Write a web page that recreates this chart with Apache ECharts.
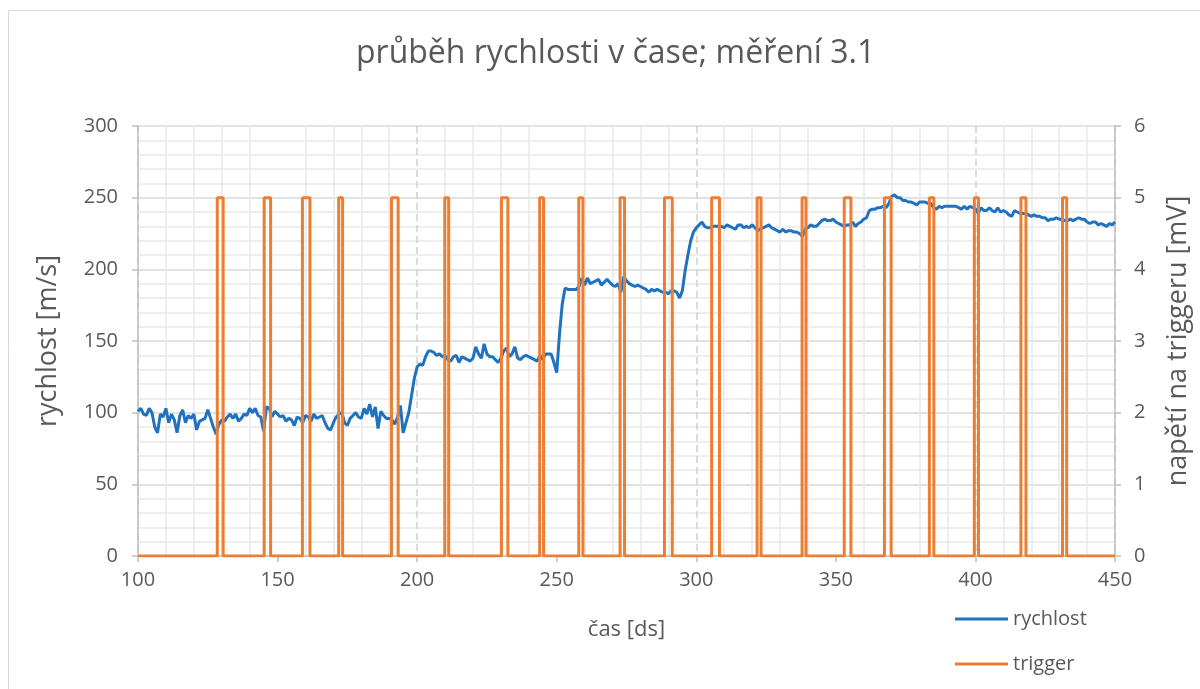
<!DOCTYPE html>
<html>
<head>
<meta charset="utf-8">
<script src="https://cdn.jsdelivr.net/npm/echarts@6/dist/echarts.min.js"></script>
<style>
  html, body { margin: 0; padding: 0; background: #fff; }
  #chart { width: 1200px; height: 689px; }
</style>
</head>
<body>
<div id="chart"></div>
<script>
// cas [ds] starts at 100, one value per ds
let casStart = 100;
let rychlost = [
  101, 103, 99, 98, 103, 100, 90, 86, 99, 97,
  103, 93, 99, 95, 86, 98, 102, 93, 98, 96,
  99, 88, 94, 95, 96, 102, 96, 90, 85, 92,
  95, 94, 97, 99, 96, 99, 94, 96, 99, 98,
  103, 100, 103, 98, 97, 87, 104, 103, 97, 101,
  99, 97, 98, 94, 96, 95, 91, 97, 96, 93,
  98, 97, 94, 99, 96, 97, 98, 93, 89, 88,
  93, 97, 99, 100, 93, 91, 96, 98, 100, 97,
  96, 103, 99, 106, 97, 104, 89, 101, 98, 96,
  96, 95, 92, 97, 105, 86, 93, 100, 112, 124,
  // 200
  132, 134, 133, 139, 143, 143, 142, 140, 141, 139,
  140, 137, 136, 139, 140, 135, 139, 138, 137, 136,
  138, 146, 141, 138, 148, 141, 139, 139, 137, 135,
  138, 143, 145, 139, 141, 146, 138, 137, 139, 140,
  139, 138, 137, 136, 140, 137, 141, 141, 141, 135,
  128, 155, 176, 187, 186, 186, 186, 186, 188, 194,
  189, 194, 190, 191, 192, 193, 189, 191, 193, 191,
  189, 188, 190, 184, 195, 192, 190, 189, 188, 189,
  188, 187, 186, 184, 186, 185, 186, 185, 184, 184,
  183, 185, 185, 184, 180, 185, 199, 210, 220, 226,
  // 300
  229, 231, 233, 230, 229, 229, 230, 230, 230, 230,
  229, 231, 230, 229, 228, 231, 231, 229, 230, 229,
  231, 229, 227, 228, 229, 230, 231, 229, 228, 227,
  226, 228, 226, 227, 227, 226, 226, 225, 223, 228,
  229, 231, 230, 230, 232, 234, 235, 234, 234, 235,
  233, 232, 231, 230, 231, 231, 233, 230, 232, 233,
  235, 236, 241, 242, 242, 243, 243, 244, 243, 246,
  251, 252, 250, 250, 248, 248, 247, 247, 246, 245,
  247, 247, 247, 246, 246, 243, 242, 244, 243, 244,
  244, 244, 244, 244, 243, 242, 244, 242, 244, 243,
  // 400
  242, 239, 243, 241, 241, 243, 241, 240, 243, 240,
  241, 240, 238, 237, 241, 240, 239, 239, 239, 238,
  237, 238, 237, 237, 236, 236, 234, 235, 235, 236,
  235, 235, 234, 234, 235, 234, 235, 236, 235, 235,
  233, 232, 233, 233, 231, 232, 231, 230, 232, 231,
  233
];

// trigger pulses [ds], high level in mV
let pulseStart = [128.4, 145.2, 158.9, 171.9, 190.8, 209.9, 230.2, 243.9, 257.9, 272.7,
                  288.6, 305.5, 321.8, 337.9, 353.0, 367.4, 383.5, 399.6, 416.3, 431.2];
let pulseEnd   = [130.5, 147.5, 161.6, 173.3, 193.2, 211.3, 232.5, 245.3, 259.4, 274.3,
                  291.4, 308.3, 323.2, 339.3, 355.4, 369.8, 385.1, 401.1, 418.1, 432.7];
let triggerHigh = 5;
let casMin = 100;
let casMax = 450;

let rychlostData = rychlost.map(function (v, i) { return [casStart + i, v]; });

let triggerData = [[casMin, 0]];
for (let i = 0; i < pulseStart.length; i++) {
  triggerData.push([pulseStart[i], 0]);
  triggerData.push([pulseStart[i], triggerHigh]);
  triggerData.push([pulseEnd[i], triggerHigh]);
  triggerData.push([pulseEnd[i], 0]);
}
triggerData.push([casMax, 0]);

let font = "'Open Sans', sans-serif";
let textColor = "#595959";

var myChart = echarts.init(document.getElementById("chart"));

var option = {
  backgroundColor: "#fff",
  animation: false,
  textStyle: { fontFamily: font },
  graphic: [
    {
      type: "rect",
      shape: { x: 8.5, y: 10.5, width: 1300, height: 800 },
      style: { fill: "none", stroke: "#d9d9d9", lineWidth: 1 },
      silent: true,
    },
  ],
  title: {
    text: "průběh rychlosti v čase; měření 3.1",
    left: 351,
    top: 33,
    textStyle: { fontFamily: font, fontSize: 32, fontWeight: "normal", color: textColor },
  },
  legend: {
    orient: "vertical",
    left: 950,
    top: 604,
    icon: "rect",
    itemWidth: 53,
    itemHeight: 3,
    itemGap: 25,
    textStyle: { fontFamily: font, fontSize: 20, color: textColor },
    data: ["rychlost", "trigger"],
  },
  grid: { left: 138, right: 84, top: 126, bottom: 133 },
  xAxis: [
    {
      type: "value",
      min: casMin,
      max: casMax,
      interval: 50,
      name: "čas [ds]",
      nameLocation: "middle",
      nameGap: 63,
      nameTextStyle: { fontFamily: font, fontSize: 22, color: textColor },
      axisLine: { lineStyle: { color: "#bfbfbf", width: 1.5 } },
      axisTick: { show: true, length: 6, lineStyle: { color: "#bfbfbf", width: 1.5 } },
      axisLabel: { fontFamily: font, fontSize: 20, color: textColor, margin: 14 },
      splitLine: { show: false },
      minorTick: { show: false, splitNumber: 5 },
      minorSplitLine: { show: true, lineStyle: { color: "#e9e9e9", width: 1.5 } },
    },
    {
      type: "value",
      min: casMin,
      max: casMax,
      interval: 100,
      axisLine: { show: false },
      axisTick: { show: false },
      axisLabel: { show: false },
      splitLine: { show: true, lineStyle: { color: "#d0d0d0", width: 1.5, type: [7, 4] } },
    },
  ],
  yAxis: [
    {
      type: "value",
      min: 0,
      max: 300,
      interval: 50,
      name: "rychlost [m/s]",
      nameLocation: "middle",
      nameGap: 76,
      nameTextStyle: { fontFamily: font, fontSize: 27, color: textColor },
      axisLine: { show: true, lineStyle: { color: "#bfbfbf", width: 1.5 } },
      axisTick: { show: true, length: 6, lineStyle: { color: "#bfbfbf", width: 1.5 } },
      axisLabel: { fontFamily: font, fontSize: 20, color: textColor, margin: 20 },
      splitLine: { show: true, lineStyle: { color: "#d9d9d9", width: 1.5 } },
      minorTick: { show: false, splitNumber: 5 },
      minorSplitLine: { show: true, lineStyle: { color: "#e9e9e9", width: 1.5 } },
    },
    {
      type: "value",
      min: 0,
      max: 6,
      interval: 1,
      name: "napětí na triggeru [mV]",
      nameLocation: "middle",
      nameGap: 50,
      nameTextStyle: { fontFamily: font, fontSize: 27, color: textColor },
      axisLine: { show: true, lineStyle: { color: "#bfbfbf", width: 1.5 } },
      axisTick: { show: true, length: 6, lineStyle: { color: "#bfbfbf", width: 1.5 } },
      axisLabel: { fontFamily: font, fontSize: 20, color: textColor, margin: 19 },
      splitLine: { show: false },
    },
  ],
  series: [
    {
      name: "rychlost",
      type: "line",
      xAxisIndex: 0,
      yAxisIndex: 0,
      data: rychlostData,
      symbol: "none",
      color: "#1f72c0",
      lineStyle: { width: 3, color: "#1f72c0" },
      z: 3,
    },
    {
      name: "trigger",
      type: "line",
      xAxisIndex: 0,
      yAxisIndex: 1,
      data: triggerData,
      symbol: "none",
      color: "#ed7d31",
      lineStyle: { width: 3, color: "#ed7d31" },
      z: 4,
    },
  ],
};

option && myChart.setOption(option);
</script>
</body>
</html>
